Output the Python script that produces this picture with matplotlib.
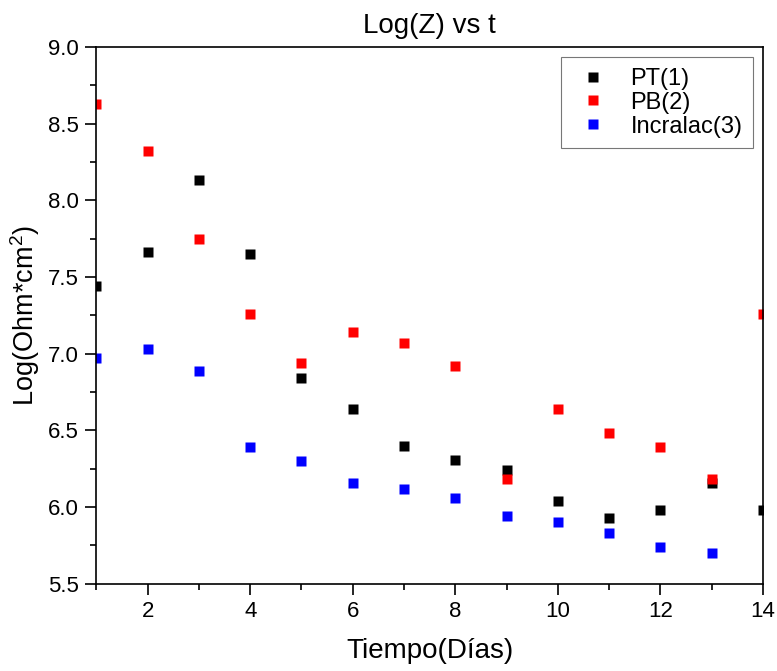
import matplotlib
matplotlib.use("Agg")
import matplotlib.pyplot as plt
from matplotlib.ticker import MultipleLocator, FormatStrFormatter

plt.rcParams['font.family'] = ['Liberation Sans', 'DejaVu Sans']
plt.rcParams['mathtext.fontset'] = 'custom'
plt.rcParams['mathtext.rm'] = 'Liberation Sans'
plt.rcParams['mathtext.default'] = 'regular'

# days
dias = [1, 2, 3, 4, 5, 6, 7, 8, 9, 10, 11, 12, 13, 14]
dias_inc = [1, 2, 3, 4, 5, 6, 7, 8, 9, 10, 11, 12, 13]

# log(Z) values
pt = [7.44, 7.66, 8.13, 7.65, 6.84, 6.64, 6.40, 6.31, 6.24, 6.04, 5.93, 5.98, 6.16, 5.98]
pb = [8.63, 8.32, 7.75, 7.26, 6.94, 7.14, 7.07, 6.92, 6.18, 6.64, 6.48, 6.39, 6.18, 7.26]
incralac = [6.97, 7.03, 6.89, 6.39, 6.30, 6.16, 6.12, 6.06, 5.94, 5.90, 5.83, 5.74, 5.70]

fig = plt.figure(figsize=(7.77, 6.71), dpi=100)
ax = fig.add_axes([0.124, 0.13, 0.858, 0.8])

ms = 7.7
ax.plot(dias, pt, 's', color='black', ms=ms, mec='none', label='PT(1)')
ax.plot(dias, pb, 's', color='#ff0000', ms=ms, mec='none', label='PB(2)')
ax.plot(dias_inc, incralac, 's', color='#0000ff', ms=ms, mec='none', label='Incralac(3)')

ax.set_xlim(1, 14)
ax.set_ylim(5.5, 9.0)
ax.xaxis.set_major_locator(MultipleLocator(2))
ax.xaxis.set_minor_locator(MultipleLocator(1))
ax.yaxis.set_major_locator(MultipleLocator(0.5))
ax.yaxis.set_minor_locator(MultipleLocator(0.25))
ax.yaxis.set_major_formatter(FormatStrFormatter('%.1f'))

ax.tick_params(which='major', direction='out', length=7.7, width=1.2, labelsize=16, pad=5)
ax.tick_params(which='minor', direction='out', length=4.3, width=1.2)
ax.tick_params(top=False, right=False)
for s in ax.spines.values():
    s.set_linewidth(1.2)

ax.set_xlabel('Tiempo(Días)', fontsize=20, labelpad=11)
ax.set_ylabel('Log(Ohm*cm$^2$)', fontsize=19.5, labelpad=4)
ax.set_title('Log(Z) vs t', fontsize=20, pad=10)

leg = ax.legend(loc='upper right', bbox_to_anchor=(0.985, 0.981), fontsize=17,
                frameon=True, fancybox=False, edgecolor='#555555',
                labelspacing=0.08, handlelength=1.8, handletextpad=0.68,
                borderpad=0.45, borderaxespad=0)
leg.get_frame().set_linewidth(0.8)

fig.savefig('out.png', dpi=100)
